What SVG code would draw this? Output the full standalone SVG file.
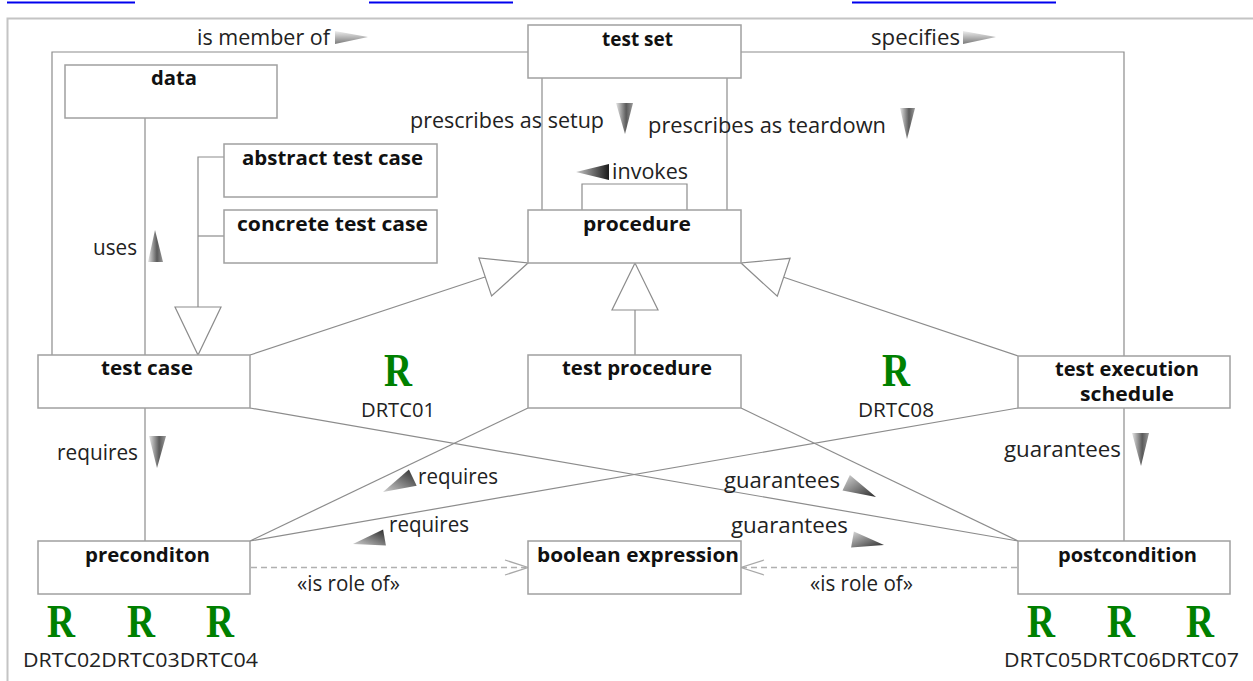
<svg xmlns="http://www.w3.org/2000/svg" width="1253" height="681" viewBox="0 0 1253 681">
<defs>
<linearGradient id="gv" x1="0" y1="0" x2="1" y2="0"><stop offset="0" stop-color="#e6e6e6"/><stop offset="0.6" stop-color="#5a5a5a"/><stop offset="1" stop-color="#9a9a9a"/></linearGradient>
<linearGradient id="gh" x1="0" y1="0" x2="0" y2="1"><stop offset="0" stop-color="#eeeeee"/><stop offset="1" stop-color="#7a7a7a"/></linearGradient>
<linearGradient id="gd" x1="0" y1="0" x2="1" y2="1"><stop offset="0" stop-color="#d8d8d8"/><stop offset="1" stop-color="#2a2a2a"/></linearGradient>
<linearGradient id="gr" x1="1" y1="0" x2="0" y2="1"><stop offset="0" stop-color="#2a2a2a"/><stop offset="1" stop-color="#d0d0d0"/></linearGradient>
<linearGradient id="gi" x1="0" y1="0" x2="1" y2="0"><stop offset="0" stop-color="#c8c8c8"/><stop offset="1" stop-color="#1a1a1a"/></linearGradient>
</defs>
<style>
.box{fill:#fff;stroke:#a0a0a0;stroke-width:1.5}
.c{fill:none;stroke:#8c8c8c;stroke-width:1.2}
.d{fill:none;stroke:#b0b0b0;stroke-width:1.5;stroke-dasharray:6 4}
.ah{fill:none;stroke:#a8a8a8;stroke-width:1.3}
.gen{fill:#fff;stroke:#8c8c8c;stroke-width:1.2}
.t{font-family:"Open Sans","DejaVu Sans",sans-serif;font-weight:bold;font-size:20px;fill:#111}
.l{font-family:"Open Sans","DejaVu Sans",sans-serif;font-size:22px;fill:#222}
.q{font-family:"Open Sans","DejaVu Sans",sans-serif;font-size:20px;fill:#222}
.r{font-family:"Liberation Serif",serif;font-weight:bold;font-size:46px;fill:#008000}
.lnk{stroke:#0000ee;stroke-width:2}
</style>
<rect width="1253" height="681" fill="#fff"/>
<g id="page">
<line class="lnk" x1="7" y1="2.5" x2="135" y2="2.5"/>
<line class="lnk" x1="369" y1="2.5" x2="513" y2="2.5"/>
<line class="lnk" x1="852" y1="2.5" x2="1056" y2="2.5"/>
<path d="M7.5,681 V18.5 H1253" fill="none" stroke="#c4c4c4" stroke-width="2"/>
</g>
<g id="connectors">
<polyline class="c" points="528,52 52,52 52,355"/>
<polyline class="c" points="741,52 1124,52 1124,356"/>
<line class="c" x1="145" y1="118" x2="145" y2="355"/>
<line class="c" x1="542" y1="78" x2="542" y2="210"/>
<line class="c" x1="727" y1="78" x2="727" y2="210"/>
<polyline class="c" points="582,210 582,184 687,184 687,210"/>
<polyline class="c" points="224,157 198,157 198,307"/>
<line class="c" x1="224" y1="236" x2="198" y2="236"/>
<polygon class="gen" points="175,307 221,307 198,355"/>
<line class="c" x1="250" y1="355" x2="485" y2="277"/>
<polygon class="gen" points="528,263 491.6,296 478.9,258"/>
<line class="c" x1="635" y1="355" x2="635" y2="310"/>
<polygon class="gen" points="635,263 612,310 658,310"/>
<line class="c" x1="1018" y1="356" x2="783.7" y2="277.3"/>
<polygon class="gen" points="741,263 777.3,296.3 790.1,258.3"/>
<line class="c" x1="145" y1="408" x2="145" y2="541"/>
<line class="c" x1="1124" y1="408" x2="1124" y2="541"/>
<line class="c" x1="250" y1="408" x2="1018" y2="541"/>
<line class="c" x1="528" y1="408" x2="250" y2="541"/>
<line class="c" x1="741" y1="408" x2="1018" y2="541"/>
<line class="c" x1="1018" y1="408" x2="250" y2="541"/>
<line class="d" x1="251" y1="567.5" x2="526" y2="567.5"/>
<polyline class="ah" points="505,560 528,567.5 505,575"/>
<line class="d" x1="1017" y1="567.5" x2="743" y2="567.5"/>
<polyline class="ah" points="764,560 741,567.5 764,575"/>
</g>
<g id="labels">
<text class="l" x="197" y="45" textLength="133" lengthAdjust="spacingAndGlyphs">is member of</text>
<polygon points="335,31 368,37 335,44" fill="url(#gh)"/>
<text class="l" x="871" y="45" textLength="89" lengthAdjust="spacingAndGlyphs">specifies</text>
<polygon points="963,31 996,37 963,44" fill="url(#gh)"/>
<text class="l" x="410" y="128" textLength="194" lengthAdjust="spacingAndGlyphs">prescribes as setup</text>
<polygon points="616,103 633,103 625,134" fill="url(#gv)"/>
<text class="l" x="648" y="133" textLength="238" lengthAdjust="spacingAndGlyphs">prescribes as teardown</text>
<polygon points="900,108 915,108 907,139" fill="url(#gv)"/>
<text class="l" x="612" y="179" textLength="76" lengthAdjust="spacingAndGlyphs">invokes</text>
<polygon points="576,172 609,164 609,180" fill="url(#gi)"/>
<text class="l" x="93" y="255" textLength="44" lengthAdjust="spacingAndGlyphs">uses</text>
<polygon points="148,262 163,262 155,230" fill="url(#gv)"/>
<text class="l" x="57" y="460" textLength="81" lengthAdjust="spacingAndGlyphs">requires</text>
<polygon points="149,436 166,436 157,468" fill="url(#gv)"/>
<text class="l" x="1004" y="457" textLength="117" lengthAdjust="spacingAndGlyphs">guarantees</text>
<polygon points="1132,433 1149,433 1141,466" fill="url(#gv)"/>
<text class="l" x="418" y="484" textLength="80" lengthAdjust="spacingAndGlyphs">requires</text>
<polygon points="383,492 416.7,485.8 408.9,469.6" fill="url(#gr)"/>
<text class="l" x="389" y="532" textLength="80" lengthAdjust="spacingAndGlyphs">requires</text>
<polygon points="353,544 385.9,545.4 383.1,529.6" fill="url(#gr)"/>
<text class="l" x="724" y="488" textLength="116" lengthAdjust="spacingAndGlyphs">guarantees</text>
<polygon points="876,497 849.9,475 842.5,490.4" fill="url(#gd)"/>
<text class="l" x="731" y="533" textLength="117" lengthAdjust="spacingAndGlyphs">guarantees</text>
<polygon points="884,545 853.9,531.6 851.1,547.4" fill="url(#gd)"/>
<text class="l" x="297" y="591" textLength="103" lengthAdjust="spacingAndGlyphs">«is role of»</text>
<text class="l" x="810" y="591" textLength="103" lengthAdjust="spacingAndGlyphs">«is role of»</text>
</g>
<g id="n-testset"><rect class="box" x="528" y="25" width="213" height="53"/><text class="t" x="602" y="46" textLength="71" lengthAdjust="spacingAndGlyphs">test set</text></g>
<g id="n-data"><rect class="box" x="65" y="65" width="212" height="53"/><text class="t" x="151" y="85" textLength="46" lengthAdjust="spacingAndGlyphs">data</text></g>
<g id="n-abstract"><rect class="box" x="224" y="144" width="213" height="53"/><text class="t" x="242" y="165" textLength="181" lengthAdjust="spacingAndGlyphs">abstract test case</text></g>
<g id="n-concrete"><rect class="box" x="224" y="210" width="213" height="53"/><text class="t" x="237" y="231" textLength="191" lengthAdjust="spacingAndGlyphs">concrete test case</text></g>
<g id="n-procedure"><rect class="box" x="528" y="210" width="213" height="53"/><text class="t" x="583" y="231" textLength="108" lengthAdjust="spacingAndGlyphs">procedure</text></g>
<g id="n-testcase"><rect class="box" x="38" y="355" width="212" height="53"/><text class="t" x="101" y="375" textLength="92" lengthAdjust="spacingAndGlyphs">test case</text></g>
<g id="n-testprocedure"><rect class="box" x="528" y="355" width="213" height="53"/><text class="t" x="562" y="375" textLength="150" lengthAdjust="spacingAndGlyphs">test procedure</text></g>
<g id="n-schedule"><rect class="box" x="1018" y="356" width="212" height="52"/><text class="t" x="1055" y="376" textLength="144" lengthAdjust="spacingAndGlyphs">test execution</text><text class="t" x="1080" y="401" textLength="94" lengthAdjust="spacingAndGlyphs">schedule</text></g>
<g id="n-precondition"><rect class="box" x="38" y="541" width="212" height="53"/><text class="t" x="85" y="562" textLength="125" lengthAdjust="spacingAndGlyphs">preconditon</text></g>
<g id="n-boolean"><rect class="box" x="528" y="541" width="213" height="53"/><text class="t" x="537" y="562" textLength="202" lengthAdjust="spacingAndGlyphs">boolean expression</text></g>
<g id="n-postcondition"><rect class="box" x="1018" y="541" width="212" height="53"/><text class="t" x="1058" y="562" textLength="139" lengthAdjust="spacingAndGlyphs">postcondition</text></g>
<g id="requirements" text-anchor="middle">
<text class="r" x="398" y="386" textLength="28" lengthAdjust="spacingAndGlyphs">R</text>
<text class="q" x="398" y="417" textLength="74" lengthAdjust="spacingAndGlyphs">DRTC01</text>
<text class="r" x="896" y="386" textLength="28" lengthAdjust="spacingAndGlyphs">R</text>
<text class="q" x="896" y="417" textLength="76" lengthAdjust="spacingAndGlyphs">DRTC08</text>
<text class="r" x="61" y="637" textLength="28" lengthAdjust="spacingAndGlyphs">R</text>
<text class="r" x="141" y="637" textLength="28" lengthAdjust="spacingAndGlyphs">R</text>
<text class="r" x="220" y="637" textLength="28" lengthAdjust="spacingAndGlyphs">R</text>
<text class="q" x="140.5" y="667" textLength="235" lengthAdjust="spacingAndGlyphs">DRTC02DRTC03DRTC04</text>
<text class="r" x="1041" y="637" textLength="28" lengthAdjust="spacingAndGlyphs">R</text>
<text class="r" x="1121" y="637" textLength="28" lengthAdjust="spacingAndGlyphs">R</text>
<text class="r" x="1200" y="637" textLength="28" lengthAdjust="spacingAndGlyphs">R</text>
<text class="q" x="1121.5" y="667" textLength="235" lengthAdjust="spacingAndGlyphs">DRTC05DRTC06DRTC07</text>
</g>
</svg>
